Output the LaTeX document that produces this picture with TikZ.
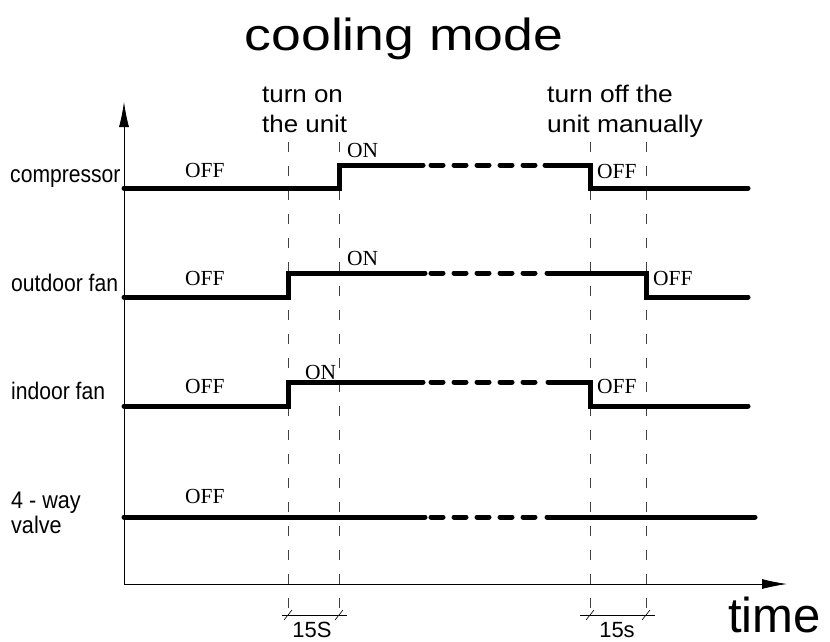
\documentclass[tikz,border=0pt]{standalone}
\usepackage{fontspec}
\setmainfont{Liberation Serif}
\newfontfamily\arialfont{Liberation Sans}
\usetikzlibrary{arrows.meta}
\newcommand{\wider}[2]{\scalebox{#1}[1]{#2}}

\begin{document}
\begin{tikzpicture}[x=1pt, y=1pt, >={Latex[length=25pt,width=10pt]},
  sig/.style={line width=5pt, line cap=round},
  gapline/.style={sig, dash pattern=on 12pt off 11pt},
  guide/.style={line width=0.7pt, black!75, dash pattern=on 10pt off 14pt},
  side/.style={anchor=base west, inner sep=0pt, font=\arialfont\fontsize{24}{24}\selectfont},
  state/.style={anchor=base west, inner sep=0pt, font=\fontsize{21.5}{21.5}\selectfont},
  event/.style={anchor=base west, inner sep=0pt, align=left, font=\arialfont\fontsize{24}{30}\selectfont},
  dimtext/.style={anchor=base, inner sep=0pt, font=\arialfont\fontsize{22}{22}\selectfont}]
  \useasboundingbox (0,0) rectangle (830,-641);

  % Title
  \node[anchor=base, inner sep=0pt, font=\arialfont\fontsize{45}{45}\selectfont] (title) at (404,-50)
    {\wider{1.19}{cooling mode}};

  % Axes
  \coordinate (origin) at (124,-584);
  \coordinate (ytip) at (124,-102);
  \coordinate (xtip) at (787,-584);
  \draw[->, line width=0.8pt] (origin) -- (ytip);
  \draw[->, line width=0.8pt] (origin) -- (xtip);
  \node[anchor=base west, inner sep=0pt, font=\arialfont\fontsize{49}{49}\selectfont] (time) at (728,-632) {time};

  % Event guides
  \foreach \gx in {288, 339, 590, 646} {
    \draw[guide] (\gx,-142) -- (\gx,-617);
  }
  % (base of a two-line node = its last line)
  \node[event] (turnon) at (262,-132) {\wider{1.08}{turn on}\\\wider{1.08}{the unit}};
  \node[event] (turnoff) at (547,-132) {\wider{1.1}{turn off the}\\\wider{1.1}{unit manually}};

  % Row labels
  \node[side] (comp) at (10,-182) {\wider{0.88}{compressor}};
  \node[side] (outfan) at (11,-291) {\wider{0.88}{outdoor fan}};
  \node[side] (infan) at (11,-399) {\wider{0.88}{indoor fan}};
  \node[side, align=left, font=\arialfont\fontsize{24}{25}\selectfont] (valve) at (11,-533)
    {\wider{0.9}{4 - way}\\\wider{0.9}{valve}};

  % Compressor
  \draw[sig] (124,-188) -- (339,-188) -- (339,-165) -- (423,-165);
  \draw[sig] (545,-165) -- (590,-165) -- (590,-188) -- (748,-188);
  % Outdoor fan
  \draw[sig] (124,-297) -- (288,-297) -- (288,-273) -- (425,-273);
  \draw[sig] (547,-273) -- (646,-273) -- (646,-297) -- (748,-297);
  % Indoor fan
  \draw[sig] (124,-406) -- (288,-406) -- (288,-382) -- (423,-382);
  \draw[sig] (548,-382) -- (590,-382) -- (590,-406) -- (748,-406);
  % 4-way valve
  \draw[sig] (124,-517) -- (425,-517);
  \draw[sig] (547,-517) -- (755,-517);
  % Skipped time
  \foreach \sy in {165, 273, 382, 517} {
    \draw[gapline] (431,-\sy) -- (540,-\sy);
  }

  % States
  \node[state] (c1) at (185,-177) {OFF};
  \node[state] (c2) at (347,-157) {ON};
  \node[state] (c3) at (597,-178) {OFF};
  \node[state] (o1) at (185,-285) {OFF};
  \node[state] (o2) at (347,-265) {ON};
  \node[state] (o3) at (653,-285) {OFF};
  \node[state] (i1) at (185,-393) {OFF};
  \node[state] (i2) at (305,-379) {ON};
  \node[state] (i3) at (597,-393) {OFF};
  \node[state] (v1) at (185,-503) {OFF};

  % 15 s delays
  \draw[line width=0.6pt] (282,-615) -- (347,-615);
  \draw[line width=0.6pt] (284,-620) -- (292,-610);
  \draw[line width=0.6pt] (335,-620) -- (343,-610);
  \node[dimtext] (d1) at (312,-637) {15S};
  \draw[line width=0.6pt] (580,-615) -- (655,-615);
  \draw[line width=0.6pt] (586,-620) -- (594,-610);
  \draw[line width=0.6pt] (642,-620) -- (650,-610);
  \node[dimtext] (d2) at (617,-637) {15s};
\end{tikzpicture}
\end{document}
